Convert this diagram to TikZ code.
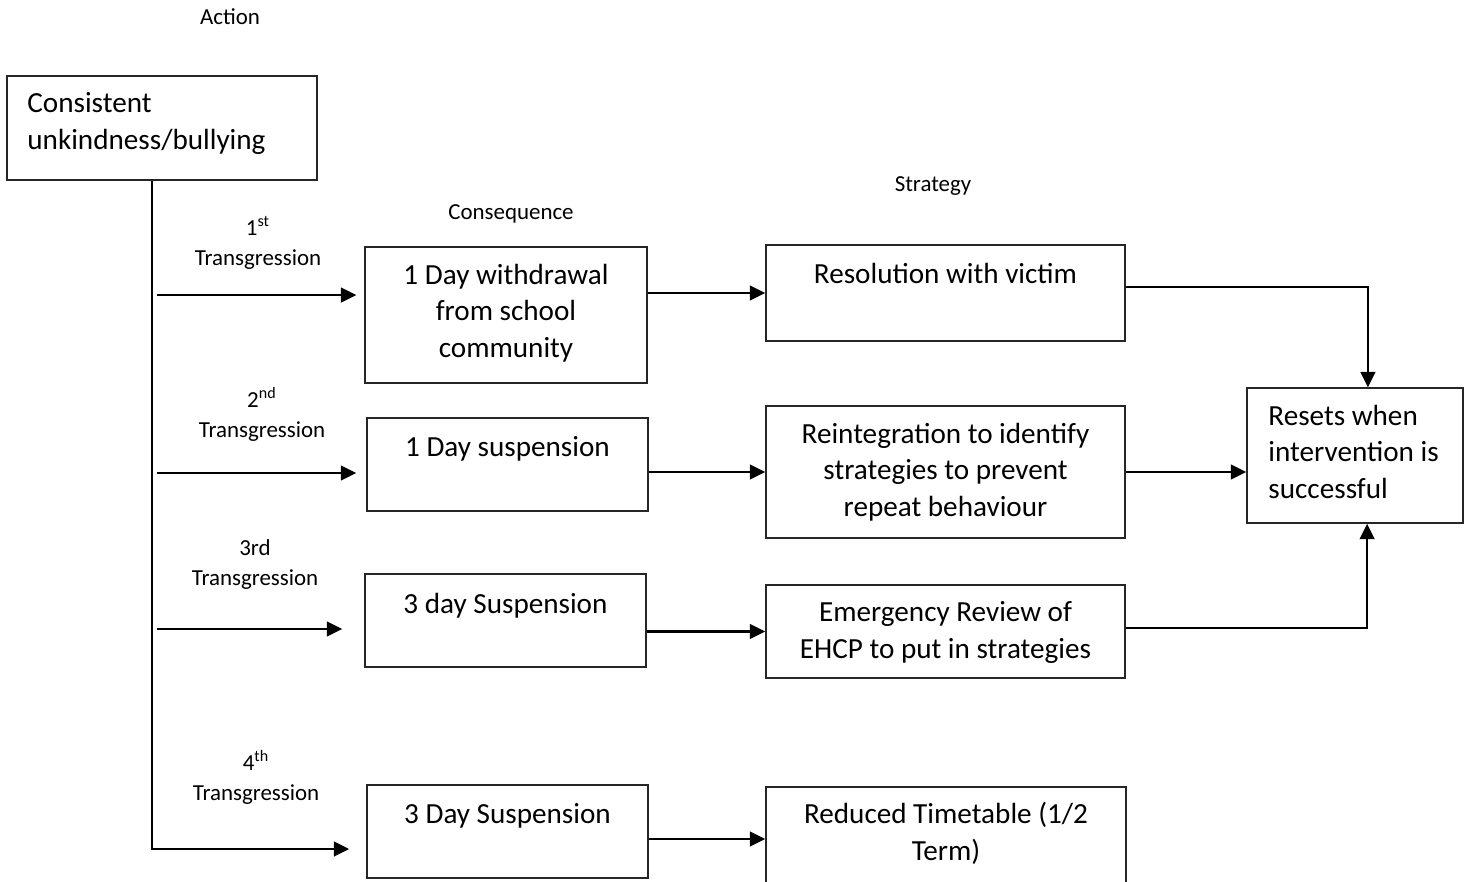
\documentclass[tikz,border=0pt]{standalone}
\usepackage{fontspec}
\setmainfont{Carlito}
\usetikzlibrary{arrows.meta, positioning}

\begin{document}
\begin{tikzpicture}[
  x=0.48pt, y=-0.48pt,
  box/.style={
    draw=black!85,
    line width=0.7pt,
    inner sep=0pt
  },
  main/.style={
    anchor=base,
    align=center,
    inner sep=0pt,
    font=\fontsize{14}{17.3}\selectfont
  },
  small/.style={
    anchor=base,
    align=center,
    inner sep=0pt,
    font=\fontsize{11}{14.4}\selectfont
  },
  arrow/.style={-{Triangle[length=7.4pt, width=7pt]}, line width=1.2pt},
  trunk/.style={-{Triangle[length=7.4pt, width=7pt]}, line width=1.4pt}
]
  \clip (0,0) rectangle (1472,881);

  % column headings
  \node[small] (action) at (230,24) {Action};
  \node[small] (conshead) at (511,219) {Consequence};
  \node[small] (strathead) at (933,191) {Strategy};

  % action (text nodes sit on the baseline of their last line)
  \node[box, minimum width=310*0.48pt, minimum height=104*0.48pt] (bully) at (162,128) {};
  \node[main, anchor=base west, align=left] (bully txt) at (27,149) {Consistent\\unkindness/bullying};

  % consequences
  \node[box, minimum width=282*0.48pt, minimum height=136*0.48pt] (cons1) at (506,315) {};
  \node[main] (cons1 txt) at (506,357) {1 Day withdrawal\\from school\\community};
  \node[box, minimum width=281*0.48pt, minimum height=93*0.48pt] (cons2) at (507.5,464.5) {};
  \node[main] (cons2 txt) at (507.5,456) {1 Day suspension};
  \node[box, minimum width=281*0.48pt, minimum height=93*0.48pt] (cons3) at (505.5,620.5) {};
  \node[main] (cons3 txt) at (505.5,613) {3 day Suspension};
  \node[box, minimum width=281*0.48pt, minimum height=93*0.48pt] (cons4) at (507.5,831.5) {};
  \node[main] (cons4 txt) at (507.5,823) {3 Day Suspension};

  % strategies
  \node[box, minimum width=359*0.48pt, minimum height=96*0.48pt] (strat1) at (945.5,293) {};
  \node[main] (strat1 txt) at (945.5,283) {Resolution with victim};
  \node[box, minimum width=359*0.48pt, minimum height=132*0.48pt] (strat2) at (945.5,472) {};
  \node[main] (strat2 txt) at (945.5,516) {Reintegration to identify\\strategies to prevent\\repeat behaviour};
  \node[box, minimum width=359*0.48pt, minimum height=93*0.48pt] (strat3) at (945.5,631.5) {};
  \node[main] (strat3 txt) at (945.5,658) {Emergency Review of\\EHCP to put in strategies};
  \node[box, minimum width=360*0.48pt, minimum height=104*0.48pt] (strat4) at (946,839) {};
  \node[main] (strat4 txt) at (946,860) {Reduced Timetable (1/2\\Term)};

  % outcome
  \node[box, minimum width=216*0.48pt, minimum height=135*0.48pt] (reset) at (1355,455.5) {};
  \node[main, anchor=base west, align=left] (reset txt) at (1268,498) {Resets when\\intervention is\\successful};

  % transgression labels
  \node[small] (tr1) at (258,265) {1\textsuperscript{st}\\Transgression};
  \node[small] (tr2) at (262,437) {2\textsuperscript{nd}\\Transgression};
  \node[small] (tr3) at (255,585) {3rd\\Transgression};
  \node[small] (tr4) at (256,800) {4\textsuperscript{th}\\Transgression};

  % trunk and branches
  \coordinate (bend) at (152,849);
  \coordinate (br1) at (157,295);
  \coordinate (br2) at (157,473);
  \coordinate (br3) at (157,629);
  \draw[trunk, shorten >=8.2pt] (bend |- bully.south) -- (bend) -- (cons4.west |- bend);
  \draw[arrow, shorten >=3.8pt] (br1) -- (cons1.west |- br1);
  \draw[arrow, shorten >=4.8pt] (br2) -- (cons2.west |- br2);
  \draw[arrow, shorten >=10.6pt] (br3) -- (cons3.west |- br3);

  % consequence to strategy
  \draw[arrow] (cons1.east |- strat1.west) -- (strat1.west);
  \draw[arrow] (cons2.east |- strat2.west) -- (strat2.west);
  \draw[arrow] (cons3.east |- strat3.west) -- (strat3.west);
  \draw[arrow] (cons4.east |- strat4.west) -- (strat4.west);

  % strategy to outcome
  \draw[arrow] ([yshift=2.9pt]strat1.east) -| ([xshift=6.2pt]reset.north);
  \draw[arrow] (strat2.east) -- (reset.west |- strat2.east);
  \draw[arrow] ([yshift=1.7pt]strat3.east) -| ([xshift=5.8pt]reset.south);
\end{tikzpicture}
\end{document}
